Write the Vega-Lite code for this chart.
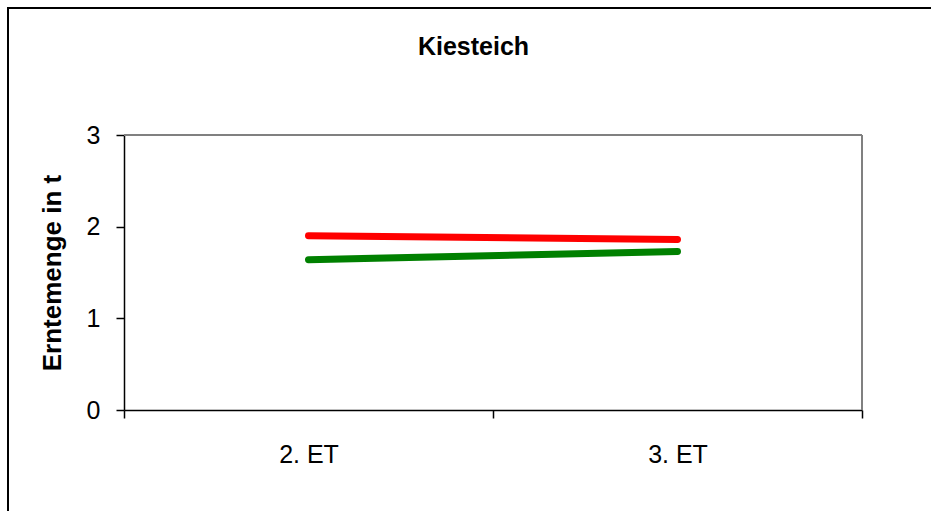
{
  "$schema": "https://vega.github.io/schema/vega-lite/v6.json",
  "width": 923,
  "height": 503,
  "autosize": {"type": "none"},
  "padding": {"left": 8, "top": 8, "right": 0, "bottom": 0},
  "background": "white",
  "config": {
    "view": {"stroke": "#000000", "strokeWidth": 2, "strokeDash": [923, 1426, 503]},
    "font": "Liberation Sans"
  },
  "title": {
    "text": "Kiesteich",
    "font": "Liberation Sans",
    "fontSize": 25,
    "fontWeight": "bold",
    "color": "#000000",
    "anchor": "middle",
    "baseline": "alphabetic",
    "offset": -72,
    "dx": 4
  },
  "datasets": {
    "ernte": [
      {"Termin": "2. ET", "Serie": "Serie 1", "Erntemenge": 1.90},
      {"Termin": "3. ET", "Serie": "Serie 1", "Erntemenge": 1.86},
      {"Termin": "2. ET", "Serie": "Serie 2", "Erntemenge": 1.64},
      {"Termin": "3. ET", "Serie": "Serie 2", "Erntemenge": 1.73}
    ]
  },
  "layer": [
    {
      "data": {"name": "ernte"},
      "mark": {"type": "line", "strokeWidth": 7, "strokeCap": "round"},
      "encoding": {
        "x": {
          "field": "Termin",
          "type": "nominal",
          "bandPosition": 0.5,
          "scale": {"type": "band", "domain": ["2. ET", "3. ET"], "range": [116, 854], "paddingInner": 0, "paddingOuter": 0},
          "axis": {
            "orient": "bottom",
            "offset": -101,
            "tickBand": "extent",
            "domainColor": "#000000",
            "domainWidth": 1.5,
            "tickColor": "#000000",
            "tickWidth": 1.5,
            "tickSize": 8,
            "labelFont": "Liberation Sans",
            "labelFontSize": 25,
            "labelColor": "#000000",
            "labelPadding": 24,
            "labelAngle": 0,
            "grid": false,
            "title": null
          }
        },
        "y": {
          "field": "Erntemenge",
          "type": "quantitative",
          "scale": {"domain": [0, 3], "range": [402, 127], "nice": false, "zero": true},
          "axis": {
            "orient": "left",
            "offset": -116,
            "values": [0, 1, 2, 3],
            "format": "d",
            "domainColor": "#000000",
            "domainWidth": 1.5,
            "tickColor": "#000000",
            "tickWidth": 1.5,
            "tickSize": 8,
            "labelFont": "Liberation Sans",
            "labelFontSize": 25,
            "labelColor": "#000000",
            "labelPadding": 16,
            "grid": false,
            "title": "Erntemenge in t",
            "titleFont": "Liberation Sans",
            "titleFontSize": 26,
            "titleFontWeight": "bold",
            "titleColor": "#000000",
            "titlePadding": 21
          }
        },
        "color": {
          "field": "Serie",
          "type": "nominal",
          "scale": {"domain": ["Serie 1", "Serie 2"], "range": ["#FF0000", "#008000"]},
          "legend": null
        }
      }
    },
    {
      "data": {"values": [{}]},
      "mark": {"type": "rule", "color": "#808080", "strokeWidth": 2},
      "encoding": {
        "x": {"datum": "2. ET", "type": "nominal", "bandPosition": 0},
        "x2": {"datum": "3. ET", "bandPosition": 1},
        "y": {"datum": 3, "type": "quantitative"}
      }
    },
    {
      "data": {"values": [{}]},
      "mark": {"type": "rule", "color": "#808080", "strokeWidth": 2},
      "encoding": {
        "x": {"datum": "3. ET", "type": "nominal", "bandPosition": 1},
        "y": {"datum": 0, "type": "quantitative"},
        "y2": {"datum": 3}
      }
    }
  ]
}
